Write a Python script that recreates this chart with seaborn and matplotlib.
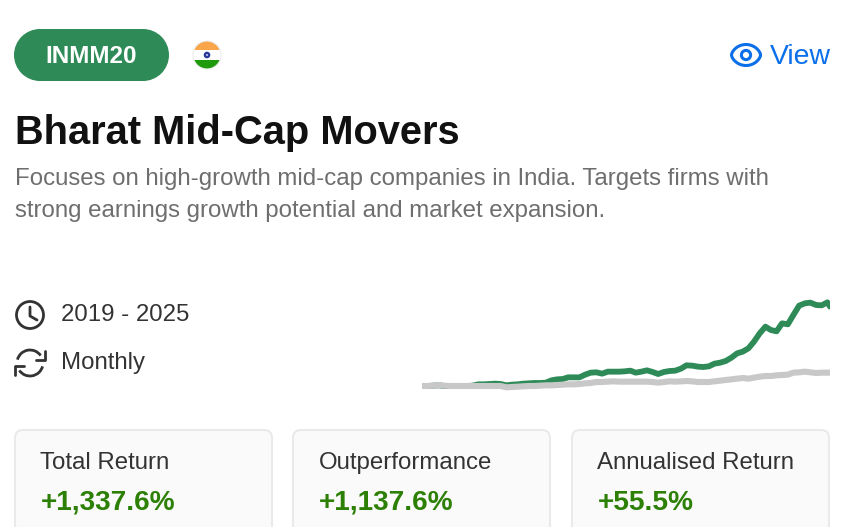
import numpy as np
import pandas as pd
import seaborn as sns
import matplotlib
matplotlib.use("Agg")
import matplotlib.pyplot as plt
from matplotlib.patches import FancyBboxPatch, Circle, Rectangle, Arc, Polygon
 
months = list(pd.date_range("2019-01-01", periods=73, freq="MS")) + [pd.Timestamp("2025-01-15")]
fund_values = [100, 100, 105.5, 111, 100, 100, 100, 100, 100, 105.5,
    127.5, 127.5, 133, 138.5, 133, 111, 122, 127.5, 138.5, 144,
    149.5, 149.5, 155, 193.5, 210, 215.5, 243, 243, 243, 287,
    320, 325.5, 303.5, 336.5, 336.5, 336.5, 342, 353, 320, 336.5,
    358.5, 331, 298, 331, 347.5, 353, 386, 441, 435.5, 419,
    413.5, 424.5, 468.5, 485, 512.5, 567.5, 639, 666.5, 721.5, 831.5,
    969, 1079, 1024, 1002, 1134, 1117.5, 1271.5, 1425.5, 1464, 1475,
    1436.5, 1431, 1480.5, 1410]
bench_values = [100, 100, 105.5, 116.5, 105.5, 100, 100, 100, 100, 100,
    100, 100, 100, 100, 100, 78, 83.5, 89, 94.5, 100,
    100, 105.5, 111, 111, 116.5, 122, 127.5, 127.5, 133, 144,
    149.5, 166, 166, 171.5, 177, 171.5, 171.5, 171.5, 171.5, 171.5,
    171.5, 166, 155, 166, 177, 171.5, 177, 182.5, 177, 166,
    166, 166, 177, 188, 199, 210, 221, 232, 221, 237.5,
    254, 265, 265, 276, 281.5, 287, 320, 325.5, 336.5, 325.5,
    314.5, 320, 320, 320]
stat_labels = ["Total Return", "Outperformance", "Annualised Return"]
stat_values = ["+1,337.6%", "+1,137.6%", "+55.5%"]
meta_labels = ["2019 - 2025", "Monthly"]
badge = "INMM20"
title = "Bharat Mid-Cap Movers"
subtitle = ["Focuses on high-growth mid-cap companies in India. Targets firms with",
            "strong earnings growth potential and market expansion."]

W, H = 841, 527
sns.set_theme(style="white")
plt.rcParams["font.family"] = ["Liberation Sans", "DejaVu Sans"]
fig = plt.figure(figsize=(W / 100, H / 100), dpi=100, facecolor="white")
ui = fig.add_axes([0, 0, 1, 1])
ui.set_xlim(0, W); ui.set_ylim(H, 0); ui.axis("off")

GREEN, BLUE, DARK = "#2E8B57", "#0A6FE8", "#333333"
px = 0.72

# badge
ui.add_patch(Rectangle((40, 29), 103, 52, fc=GREEN, ec="none"))
ui.add_patch(Circle((40, 55), 26, fc=GREEN, ec="none"))
ui.add_patch(Circle((143, 55), 26, fc=GREEN, ec="none"))
ui.text(91, 63, badge, color="white", fontsize=24.3 * px, fontweight="bold", ha="center", va="baseline")

# flag
clip = Circle((207, 55), 14, transform=ui.transData)
for y0, c in [(41, "#F9A64A"), (50.3, "white"), (59.7, "#1E9A0C")]:
    r = Rectangle((192, y0), 30, 9.4, fc=c, ec="none")
    ui.add_patch(r); r.set_clip_path(clip)
ui.add_patch(Circle((207, 55), 14, fc="none", ec="#EDEDED", lw=0.8))
ui.add_patch(Circle((207, 55), 3.3, fc="#2B3A9A", ec="none"))
ui.add_patch(Circle((207, 55), 1.0, fc="#C9CDEA", ec="none"))

# view link
t = np.linspace(0, 2 * np.pi, 100)
ui.plot(746 + 14.5 * np.cos(t), 55 - 10.5 * np.sin(t) * np.abs(np.sin(t)) ** 0.25, color=BLUE, lw=2.2)
ui.add_patch(Circle((746, 55), 4.6, fc="none", ec=BLUE, lw=2.2))
ui.text(770, 64, "View", color=BLUE, fontsize=28.4 * px, ha="left", va="baseline")

# heading
ui.text(15, 144, title, color="#111111", fontsize=39.9 * px, fontweight="bold", ha="left", va="baseline")
for yb, line in zip([185, 217], subtitle):
    ui.text(15, yb, line, color="#6E6E6E", fontsize=24 * px, ha="left", va="baseline")

# meta
ui.add_patch(Circle((30, 315), 13.5, fc="none", ec=DARK, lw=2.0))
ui.plot([30, 30, 37], [307, 316, 320], color=DARK, lw=2.0, solid_capstyle="round")
ui.add_patch(Arc((30, 363), 26, 26, theta1=195, theta2=325, ec=DARK, lw=2.0))
ui.add_patch(Arc((30, 363), 26, 26, theta1=15, theta2=145, ec=DARK, lw=2.0))
ui.plot([45, 45, 36], [351, 360, 360], color=DARK, lw=2.0)
ui.plot([15, 15, 24], [375, 366, 366], color=DARK, lw=2.0)
ui.text(61, 321, meta_labels[0], color=DARK, fontsize=24 * px, ha="left", va="baseline")
ui.text(61, 369, meta_labels[1], color=DARK, fontsize=24 * px, ha="left", va="baseline")

# stat cards
for x0, lab, val in zip([15, 293, 572], stat_labels, stat_values):
    ui.add_patch(FancyBboxPatch((x0 + 8, 438), 257 - 16, 120, boxstyle="round,pad=8,rounding_size=8",
                                fc="#FAFAFA", ec="#EAEAEA", lw=1.5))
    ui.text(x0 + 25.5, 469, lab, color=DARK, fontsize=24 * px, ha="left", va="baseline")
    ui.text(x0 + 25.5, 510, val, color="#2D8006", fontsize=28 * px, fontweight="bold", ha="left", va="baseline")

# chart
ax = fig.add_axes([422 / W, 1 - 395 / H, (830 - 422) / W, 100 / H])
ax.patch.set_alpha(0)
df = pd.DataFrame({"month": months, "fund": fund_values, "bench": bench_values})
sns.lineplot(data=df, x="month", y="fund", color=GREEN, lw=4.2, ax=ax, estimator=None)
sns.lineplot(data=df, x="month", y="bench", color="#C8C8C8", lw=4.4, ax=ax, estimator=None)
ax.set_xlim(months[0], months[-1])
ax.set_ylim(-48.5, 1601.5)
ax.axis("off")

fig.savefig("out.png", dpi=100)
